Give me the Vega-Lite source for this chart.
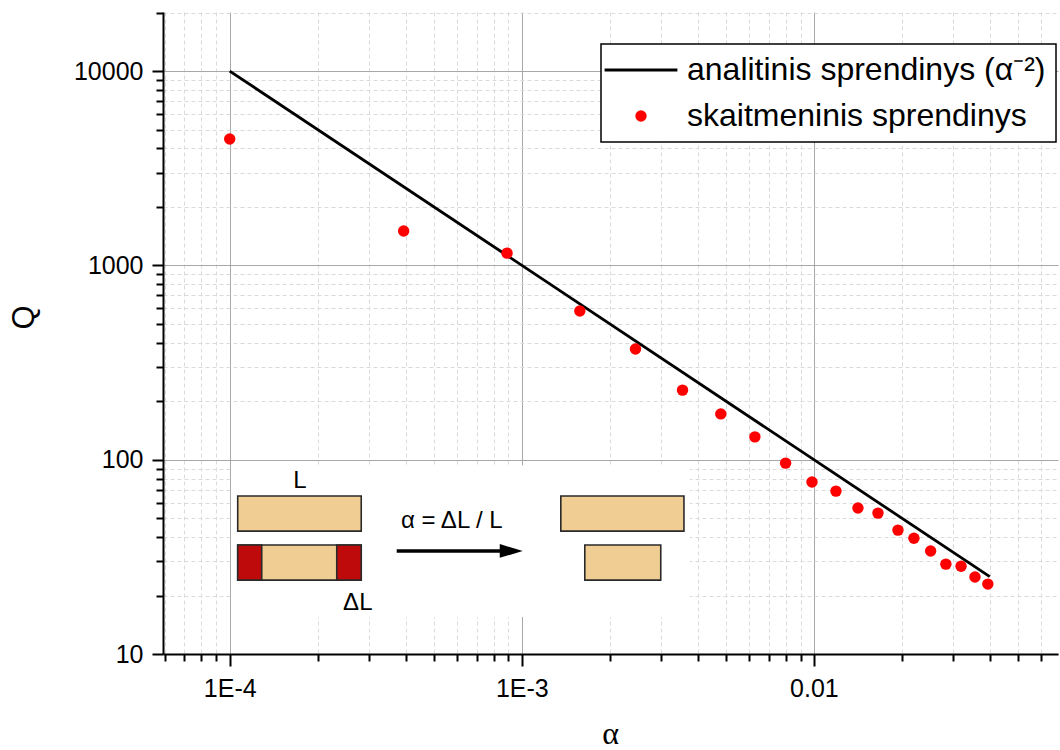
{
  "$schema": "https://vega.github.io/schema/vega-lite/v6.json",
  "width": 895,
  "height": 642,
  "autosize": {"type": "none"},
  "padding": {"left": 163, "top": 12, "right": 2, "bottom": 96},
  "background": "white",
  "config": {
    "view": {"stroke": null},
    "axis": {
      "domainColor": "black", "domainWidth": 2,
      "tickColor": "black", "tickWidth": 2,
      "labelFont": "Liberation Sans", "labelFontSize": 25, "labelColor": "black",
      "titleColor": "black", "titleFontWeight": "normal",
      "gridColor": "#d4d4d4", "gridWidth": 1
    }
  },
  "datasets": {
    "analytic": [
      {"alpha": 0.0001, "Q": 10000, "series": "analitinis sprendinys (α⁻²)"},
      {"alpha": 0.04, "Q": 25, "series": "analitinis sprendinys (α⁻²)"}
    ],
    "numeric": [
      {"alpha": 0.0001, "Q": 4467, "series": "skaitmeninis sprendinys"},
      {"alpha": 0.000394, "Q": 1503, "series": "skaitmeninis sprendinys"},
      {"alpha": 0.00089, "Q": 1156, "series": "skaitmeninis sprendinys"},
      {"alpha": 0.00158, "Q": 582, "series": "skaitmeninis sprendinys"},
      {"alpha": 0.00245, "Q": 371, "series": "skaitmeninis sprendinys"},
      {"alpha": 0.00355, "Q": 228, "series": "skaitmeninis sprendinys"},
      {"alpha": 0.0048, "Q": 172, "series": "skaitmeninis sprendinys"},
      {"alpha": 0.00628, "Q": 131, "series": "skaitmeninis sprendinys"},
      {"alpha": 0.008, "Q": 96, "series": "skaitmeninis sprendinys"},
      {"alpha": 0.00985, "Q": 76.8, "series": "skaitmeninis sprendinys"},
      {"alpha": 0.0119, "Q": 68.9, "series": "skaitmeninis sprendinys"},
      {"alpha": 0.01415, "Q": 56.4, "series": "skaitmeninis sprendinys"},
      {"alpha": 0.01657, "Q": 53.1, "series": "skaitmeninis sprendinys"},
      {"alpha": 0.0194, "Q": 43.4, "series": "skaitmeninis sprendinys"},
      {"alpha": 0.022, "Q": 39.4, "series": "skaitmeninis sprendinys"},
      {"alpha": 0.0251, "Q": 33.9, "series": "skaitmeninis sprendinys"},
      {"alpha": 0.0283, "Q": 29.0, "series": "skaitmeninis sprendinys"},
      {"alpha": 0.0319, "Q": 28.3, "series": "skaitmeninis sprendinys"},
      {"alpha": 0.0356, "Q": 24.9, "series": "skaitmeninis sprendinys"},
      {"alpha": 0.0394, "Q": 22.9, "series": "skaitmeninis sprendinys"}
    ],
    "insetBox": [
      {"a1": 0.000101, "a2": 0.00376, "q1": 15.5, "q2": 93.7}
    ],
    "bars": [
      {"part": "body", "a1": 0.0001065, "a2": 0.000282, "q1": 42.9, "q2": 65.0},
      {"part": "body", "a1": 0.0001065, "a2": 0.000282, "q1": 24.0, "q2": 36.4},
      {"part": "cut", "a1": 0.0001065, "a2": 0.0001287, "q1": 24.0, "q2": 36.4},
      {"part": "cut", "a1": 0.0002325, "a2": 0.000282, "q1": 24.0, "q2": 36.4},
      {"part": "body", "a1": 0.00136, "a2": 0.00359, "q1": 42.9, "q2": 65.0},
      {"part": "body", "a1": 0.001643, "a2": 0.00299, "q1": 24.0, "q2": 36.4}
    ],
    "insetText": [
      {"a": 0.0001738, "q": 77.6, "label": "L"},
      {"a": 0.000576, "q": 48.3, "label": "α = ΔL / L"},
      {"a": 0.0002745, "q": 18.3, "label": "ΔL"}
    ],
    "arrow": [
      {"a1": 0.000373, "a2": 0.00088, "q": 33.9, "head": 0.00092}
    ]
  },
  "layer": [
    {
      "data": {"name": "insetBox"},
      "mark": {"type": "rect", "fill": "white", "stroke": null},
      "encoding": {
        "x": {"field": "a1", "type": "quantitative", "scale": {"type": "log", "domain": [0.0000591, 0.0685], "nice": false},
          "axis": {
            "title": "α", "titleFont": "Liberation Serif", "titleFontSize": 32,
            "titleX": 447, "titleY": 96, "titleBaseline": "bottom", "titleAlign": "center",
            "values": [0.00006, 0.00007, 0.00008, 0.00009, 0.0001, 0.0002, 0.0003, 0.0004, 0.0005, 0.0006, 0.0007, 0.0008, 0.0009, 0.001, 0.002, 0.003, 0.004, 0.005, 0.006, 0.007, 0.008, 0.009, 0.01, 0.02, 0.03, 0.04, 0.05, 0.06],
            "labelExpr": "datum.value == 0.0001 ? '1E-4' : datum.value == 0.001 ? '1E-3' : datum.value == 0.01 ? '0.01' : ''",
            "labelPadding": 10,
            "labelFlush": false, "labelOverlap": false,
            "tickSize": {"condition": {"test": "datum.value == 0.0001 || datum.value == 0.001 || datum.value == 0.01", "value": 12}, "value": 7},
            "gridDash": {"condition": {"test": "datum.value == 0.0001 || datum.value == 0.001 || datum.value == 0.01", "value": []}, "value": [4, 3]},
            "gridColor": {"condition": {"test": "datum.value == 0.0001 || datum.value == 0.001 || datum.value == 0.01", "value": "#a8a8a8"}, "value": "#dadada"}
          }},
        "x2": {"field": "a2"},
        "y": {"field": "q1", "type": "quantitative", "scale": {"type": "log", "domain": [10, 20130], "nice": false},
          "axis": {
            "title": "Q", "titleFont": "Liberation Sans", "titleFontSize": 31,
            "titleX": -139, "titleY": 305, "titleAngle": -90, "titleAlign": "center", "titleBaseline": "middle",
            "values": [10, 20, 30, 40, 50, 60, 70, 80, 90, 100, 200, 300, 400, 500, 600, 700, 800, 900, 1000, 2000, 3000, 4000, 5000, 6000, 7000, 8000, 9000, 10000, 20000],
            "labelExpr": "datum.value == 10 || datum.value == 100 || datum.value == 1000 || datum.value == 10000 ? format(datum.value, 'd') : ''",
            "labelPadding": 9,
            "labelFlush": false, "labelOverlap": false,
            "tickSize": {"condition": {"test": "datum.value == 10 || datum.value == 100 || datum.value == 1000 || datum.value == 10000", "value": 11}, "value": 7},
            "gridDash": {"condition": {"test": "datum.value == 10 || datum.value == 100 || datum.value == 1000 || datum.value == 10000", "value": []}, "value": [4, 3]},
            "gridColor": {"condition": {"test": "datum.value == 10 || datum.value == 100 || datum.value == 1000 || datum.value == 10000", "value": "#a8a8a8"}, "value": "#dadada"}
          }},
        "y2": {"field": "q2"}
      }
    },
    {
      "data": {"name": "bars"},
      "transform": [{"filter": "datum.part == 'body'"}],
      "mark": {"type": "rect", "fill": "#F0CD92", "stroke": "#2a2a2a", "strokeWidth": 1.6},
      "encoding": {
        "x": {"field": "a1", "type": "quantitative"},
        "x2": {"field": "a2"},
        "y": {"field": "q1", "type": "quantitative"},
        "y2": {"field": "q2"}
      }
    },
    {
      "data": {"name": "bars"},
      "transform": [{"filter": "datum.part == 'cut'"}],
      "mark": {"type": "rect", "fill": "#BE0A0A", "stroke": "#2a2a2a", "strokeWidth": 1.6},
      "encoding": {
        "x": {"field": "a1", "type": "quantitative"},
        "x2": {"field": "a2"},
        "y": {"field": "q1", "type": "quantitative"},
        "y2": {"field": "q2"}
      }
    },
    {
      "data": {"name": "arrow"},
      "mark": {"type": "rule", "color": "black", "strokeWidth": 3.5},
      "encoding": {
        "x": {"field": "a1", "type": "quantitative"},
        "x2": {"field": "a2"},
        "y": {"field": "q", "type": "quantitative"}
      }
    },
    {
      "data": {"name": "arrow"},
      "mark": {"type": "point", "shape": "M-1,-0.6L1,0L-1,0.6Z", "filled": true, "color": "black", "size": 529, "opacity": 1},
      "encoding": {
        "x": {"field": "head", "type": "quantitative"},
        "y": {"field": "q", "type": "quantitative"}
      }
    },
    {
      "data": {"name": "insetText"},
      "mark": {"type": "text", "font": "Liberation Sans", "fontSize": 24, "color": "black", "align": "center", "baseline": "middle"},
      "encoding": {
        "x": {"field": "a", "type": "quantitative"},
        "y": {"field": "q", "type": "quantitative"},
        "text": {"field": "label"}
      }
    },
    {
      "data": {"name": "analytic"},
      "mark": {"type": "line", "strokeWidth": 2.8},
      "encoding": {
        "x": {"field": "alpha", "type": "quantitative"},
        "y": {"field": "Q", "type": "quantitative"},
        "color": {"field": "series", "type": "nominal",
          "scale": {"domain": ["analitinis sprendinys (α⁻²)", "skaitmeninis sprendinys"], "range": ["black", "#FF0000"]},
          "legend": {
            "title": null, "orient": "none", "legendX": 438, "legendY": 32,
            "fillColor": "white", "strokeColor": "black",
            "padding": 10, "labelFont": "Liberation Sans", "labelFontSize": 32, "labelColor": "black",
            "symbolSize": 130, "labelOffset": 30, "rowPadding": 14, "symbolOffset": 14,
            "labelLimit": 600,
            "encode": {
              "legend": {"update": {"strokeWidth": {"value": 1.5}}},
              "symbols": {"update": {
                "size": {"signal": "datum.value == 'analitinis sprendinys (α⁻²)' ? 5300 : 130"},
                "stroke": {"signal": "datum.value == 'analitinis sprendinys (α⁻²)' ? 'black' : '#FF0000'"},
                "fill": {"signal": "datum.value == 'analitinis sprendinys (α⁻²)' ? 'black' : '#FF0000'"},
                "strokeWidth": {"signal": "datum.value == 'analitinis sprendinys (α⁻²)' ? 2.8 : 0"},
                "opacity": {"value": 1}
              }}
            }
          }}
      }
    },
    {
      "data": {"name": "numeric"},
      "mark": {"type": "point", "filled": true, "size": 130, "opacity": 1},
      "encoding": {
        "x": {"field": "alpha", "type": "quantitative"},
        "y": {"field": "Q", "type": "quantitative"},
        "color": {"field": "series", "type": "nominal"},
        "shape": {"field": "series", "type": "nominal",
          "scale": {"domain": ["analitinis sprendinys (α⁻²)", "skaitmeninis sprendinys"], "range": ["stroke", "circle"]}}
      }
    }
  ]
}
